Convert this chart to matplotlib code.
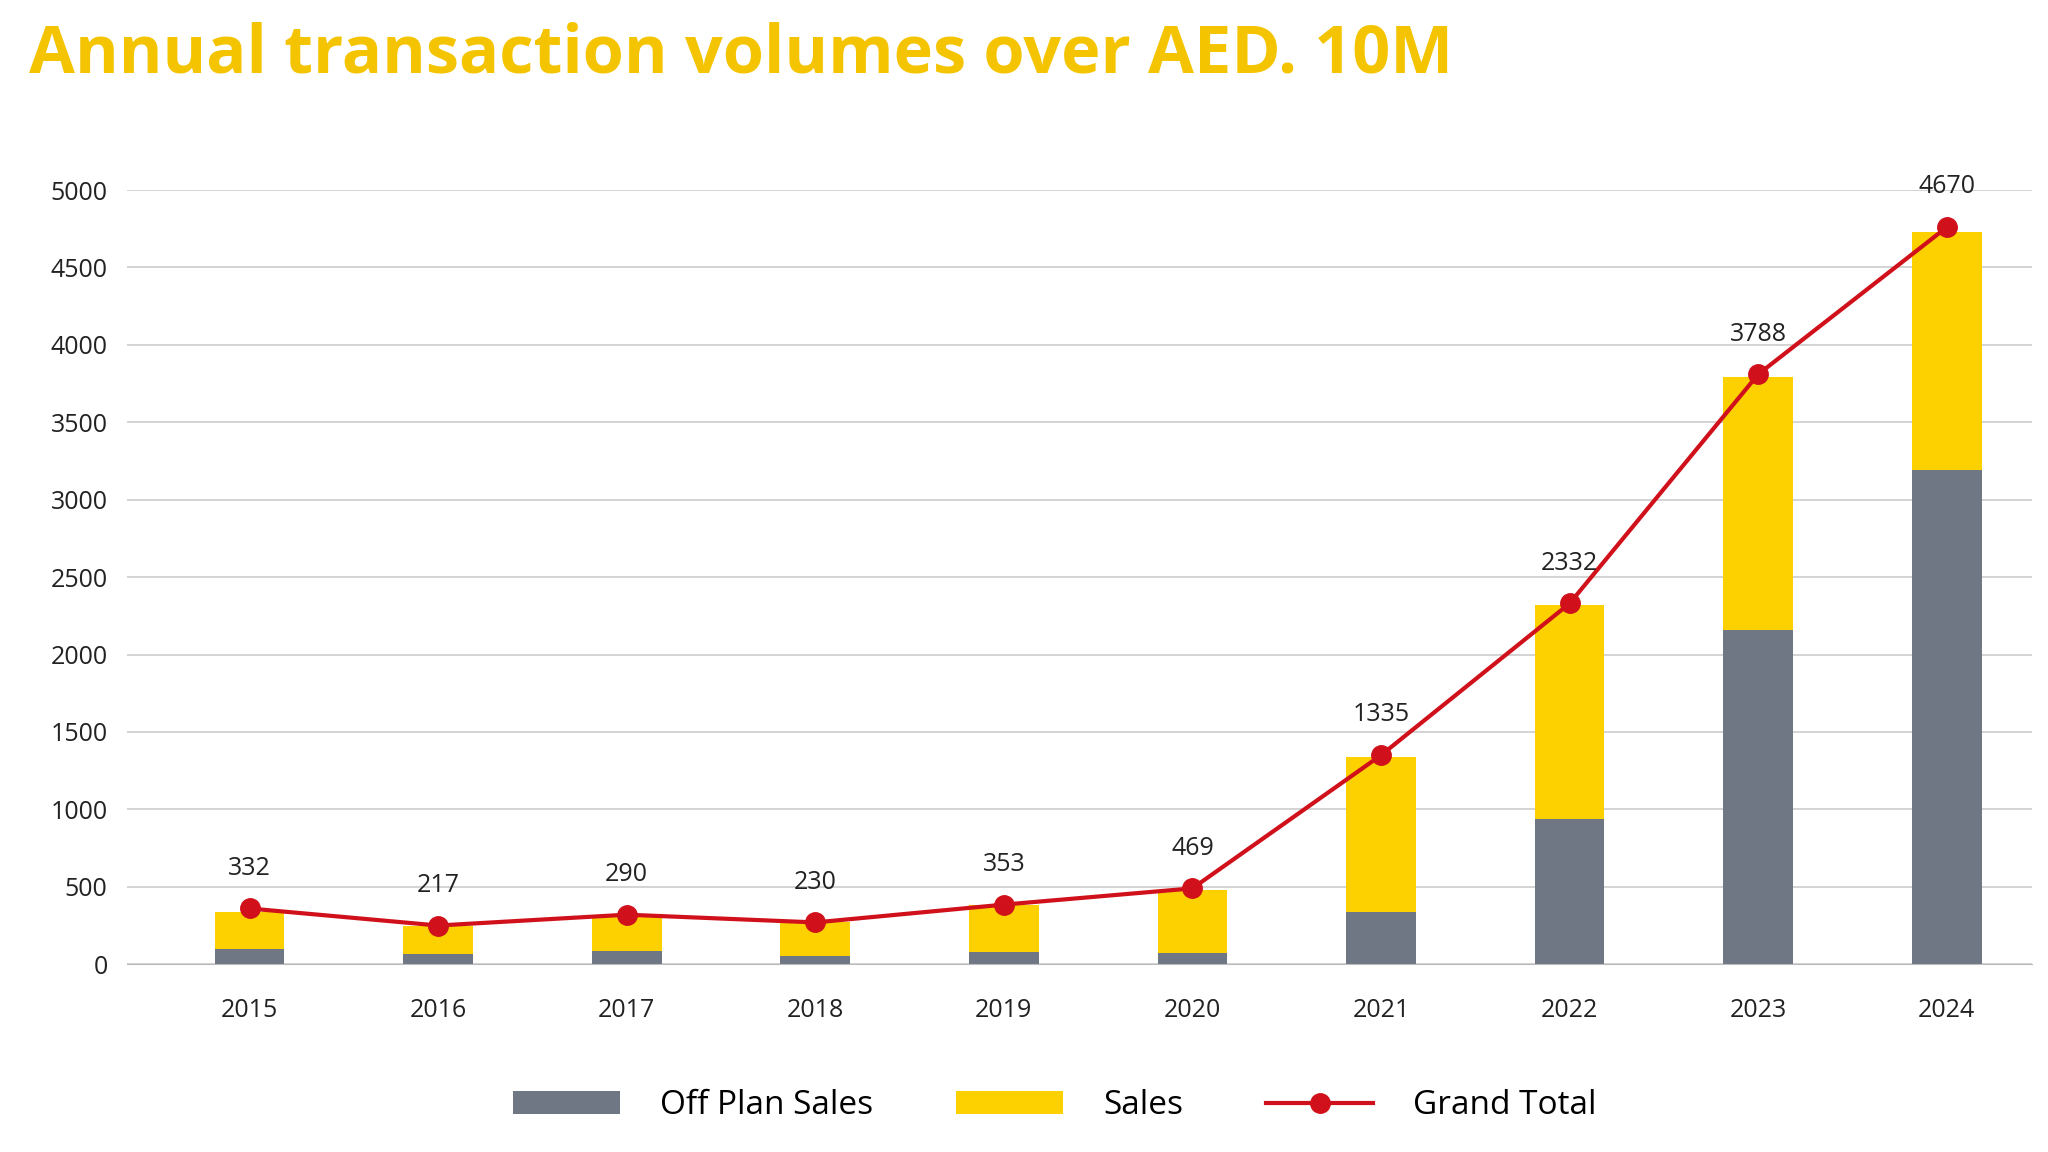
import matplotlib
matplotlib.use("Agg")
import matplotlib.pyplot as plt
import numpy as np

years = ["2015","2016","2017","2018","2019","2020","2021","2022","2023","2024"]
off_plan = [100, 65, 85, 55, 80, 70, 340, 940, 2160, 3190]
sales = [240, 185, 225, 215, 305, 410, 1000, 1380, 1630, 1540]
grand_total_points = [360, 250, 320, 270, 385, 490, 1350, 2330, 3810, 4760]
total_labels = ["332","217","290","230","353","469","1335","2332","3788","4670"]

plt.rcParams['font.family'] = ['Open Sans', 'DejaVu Sans']
fig = plt.figure(figsize=(20.48, 11.52), dpi=100)
ax = fig.add_axes([0.062, 0.163, 0.93, 0.672])
x = np.arange(len(years))
grey = "#6F7785"; yellow = "#FDD000"; red = "#D0111B"
h1 = ax.bar(x, off_plan, width=0.37, color=grey, label="Off Plan Sales", zorder=2)
h2 = ax.bar(x, sales, width=0.37, bottom=off_plan, color=yellow, label="Sales", zorder=2)
h3, = ax.plot(x, grand_total_points, color=red, lw=3, marker='o', ms=14, label="Grand Total", zorder=3)
for xi, yv, lab in zip(x, grand_total_points, total_labels):
    ax.annotate(lab, (xi, yv), xytext=(0, 20), textcoords="offset points",
                ha='center', va='bottom', fontsize=18, color="#222222")
ax.set_ylim(0, 5000)
ax.set_xlim(-0.65, 9.45)
ax.set_yticks(range(0, 5001, 500))
ax.yaxis.grid(True, color="#CCCCCC", lw=1.2, zorder=0)
ax.set_axisbelow(True)
for s in ["top", "right", "left"]:
    ax.spines[s].set_visible(False)
ax.spines["bottom"].set_color("#BBBBBB")
ax.tick_params(axis='y', length=0, labelsize=18, colors="#222222", pad=14)
ax.tick_params(axis='x', length=0, labelsize=18, colors="#222222", pad=24)
ax.set_xticks(x); ax.set_xticklabels(years)
fig.text(0.014, 0.952, "Annual transaction volumes over AED. 10M", fontsize=48,
         fontweight='bold', color="#F5C400", va='center', ha='left')
fig.legend([h1, h2, h3], ["Off Plan Sales", "Sales", "Grand Total"],
           loc='center', bbox_to_anchor=(0.515, 0.04), ncol=3, frameon=False,
           fontsize=24, handlelength=3.2, columnspacing=2.5, handletextpad=1.2)
fig.savefig("out.png", dpi=100, facecolor="white")
